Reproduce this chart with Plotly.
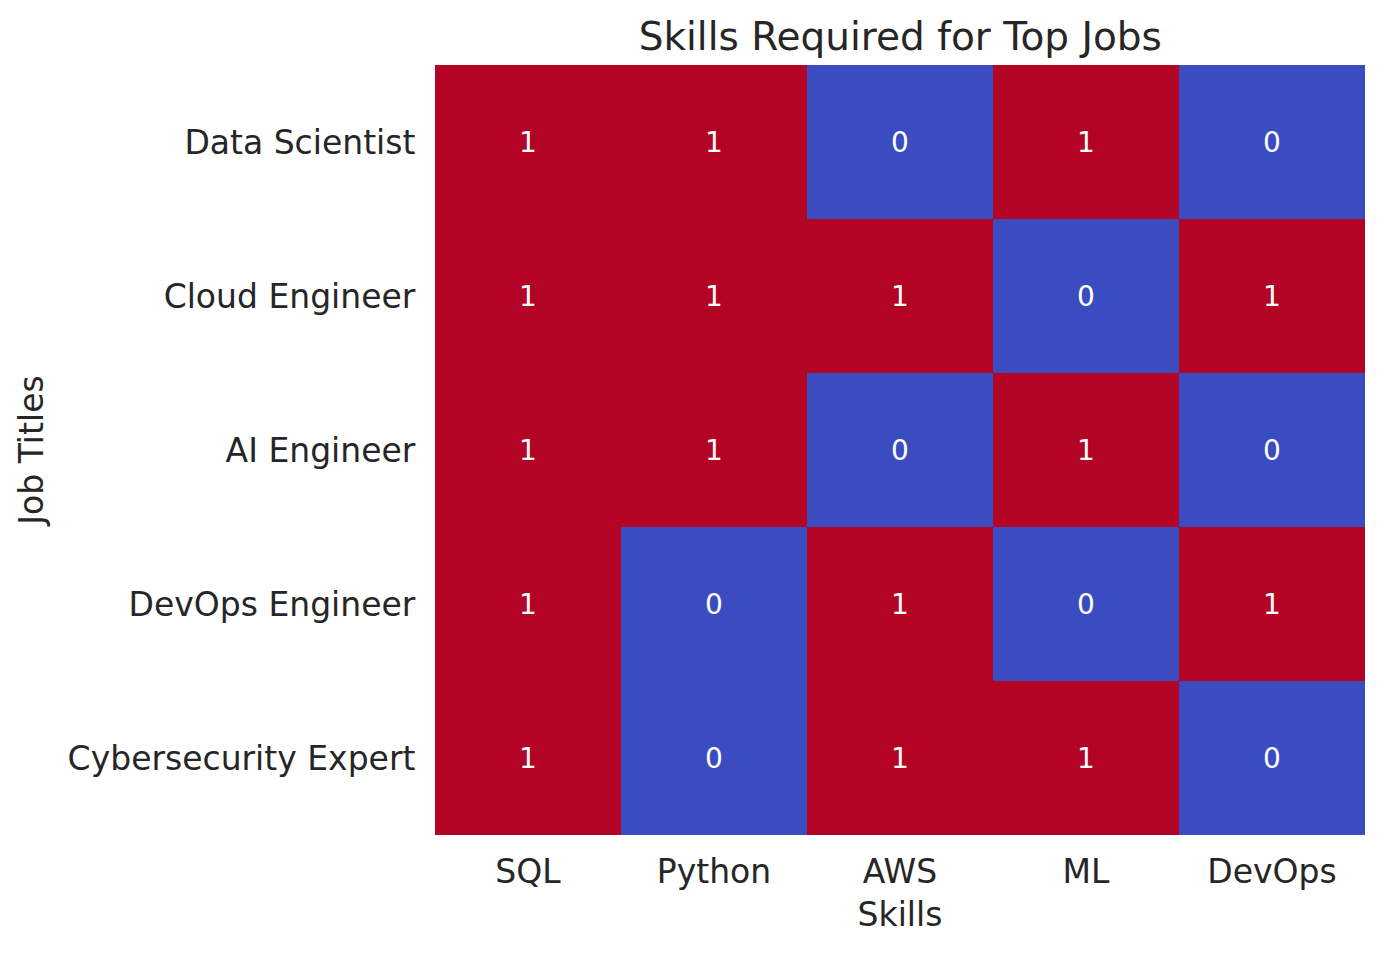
import plotly.graph_objects as go

skills = ["SQL", "Python", "AWS", "ML", "DevOps"]
jobs = ["Data Scientist", "Cloud Engineer", "AI Engineer", "DevOps Engineer", "Cybersecurity Expert"]
values = [
    [1, 1, 0, 1, 0],
    [1, 1, 1, 0, 1],
    [1, 1, 0, 1, 0],
    [1, 0, 1, 0, 1],
    [1, 0, 1, 1, 0],
]

font = "DejaVu Sans"
fig = go.Figure(go.Heatmap(
    z=values, x=skills, y=jobs,
    colorscale=[[0, "#3b4cc0"], [1, "#b40426"]],
    zmin=0, zmax=1, showscale=False,
    text=values, texttemplate="%{text}",
    textfont=dict(family=font, size=28, color="white"),
    xgap=0, ygap=0,
))
fig.update_layout(
    width=1385, height=953,
    margin=dict(l=435, r=20, t=65, b=118),
    paper_bgcolor="white", plot_bgcolor="white",
    title=dict(text="Skills Required for Top Jobs", x=0.65, xanchor="center",
               y=1 - 36/953, yanchor="middle",
               font=dict(family=font, size=39, color="#262626")),
    font=dict(family=font, color="#262626"),
)
fig.update_xaxes(title=dict(text="Skills", font=dict(size=33), standoff=13),
                 tickfont=dict(size=33), showgrid=False, zeroline=False,
                 ticks="outside", ticklen=7, tickcolor="white")
fig.update_yaxes(title=dict(text="Job Titles", font=dict(size=33), standoff=14),
                 tickfont=dict(size=33), autorange="reversed", showgrid=False,
                 zeroline=False, ticks="outside", ticklen=12, tickcolor="white")
fig.write_html("out.html")
